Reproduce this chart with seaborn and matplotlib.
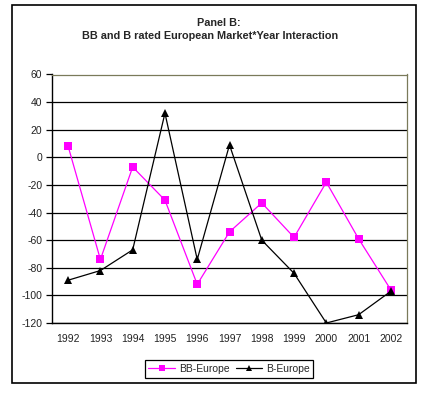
import pandas as pd
import matplotlib
matplotlib.use("Agg")
import matplotlib.pyplot as plt
import seaborn as sns
from matplotlib.patches import Rectangle
from matplotlib.lines import Line2D

years = ["1992", "1993", "1994", "1995", "1996", "1997", "1998", "1999", "2000", "2001", "2002"]
bb_europe = [8, -74, -7, -31, -92, -54, -33, -58, -18, -59, -96]
b_europe = [-89, -82, -67, 32, -74, 9, -60, -84, -120, -114, -97]

sns.set_theme(style="white")
plt.rcParams['font.family'] = ['Liberation Sans', 'DejaVu Sans']
plt.rcParams['axes.unicode_minus'] = False

# long table for seaborn
df = pd.DataFrame({
    'pos': list(range(len(years))) * 2,
    'value': bb_europe + b_europe,
    'series': ['BB-Europe'] * len(years) + ['B-Europe'] * len(years),
})

W, H = 433, 398
fig = plt.figure(figsize=(W / 100, H / 100), dpi=100)
fig.patches.append(Rectangle((12 / W, 1 - 383 / H), 404 / W, 378 / H, transform=fig.transFigure,
                             fill=False, edgecolor='black', linewidth=1.2))

ax = fig.add_axes([52 / W, 1 - 323 / H, 355 / W, (323 - 74.5) / H])
sns.lineplot(data=df, x='pos', y='value', hue='series', style='series',
             palette={'BB-Europe': '#ff00ff', 'B-Europe': 'black'},
             markers={'BB-Europe': 's', 'B-Europe': '^'}, dashes=False,
             markersize=6, markeredgewidth=0, linewidth=0.9, ax=ax, legend=False)

ax.set_xlim(-0.5, len(years) - 0.5)
ax.set_ylim(-120, 60)
ax.set_yticks(range(-120, 61, 20))
ax.set_xticks(range(len(years)))
ax.set_xticklabels(years)
ax.set_xticks([i - 0.5 for i in range(len(years) + 1)], minor=True)
ax.tick_params(axis='x', which='major', length=0, pad=8, labelsize=7.5, colors='#222222')
ax.tick_params(axis='x', which='minor', length=4, width=0.9, color='black', direction='out')
ax.tick_params(axis='y', length=4, width=0.9, color='black', direction='out', labelsize=7.5, pad=3,
               labelcolor='#222222')
ax.tick_params(left=True, bottom=True)
ax.set_xlabel('')
ax.set_ylabel('')
ax.yaxis.grid(True, color='black', linewidth=0.9)
ax.set_axisbelow(True)
for s in ['left', 'bottom']:
    ax.spines[s].set_color('black')
    ax.spines[s].set_linewidth(1.0)
for s in ['top', 'right']:
    ax.spines[s].set_color('#7a7a5a')
    ax.spines[s].set_linewidth(0.9)

fig.text(219 / W, 1 - 23 / H, 'Panel B:', ha='center', va='center', fontsize=7.8, fontweight='bold')
fig.text(210 / W, 1 - 36 / H, 'BB and B rated European Market*Year Interaction', ha='center',
         va='center', fontsize=7.8, fontweight='bold')

handles = [Line2D([], [], color='#ff00ff', marker='s', markersize=5, markeredgewidth=0, linewidth=0.9),
           Line2D([], [], color='black', marker='^', markersize=5, markeredgewidth=0, linewidth=0.9)]
leg = fig.legend(handles, ['BB-Europe', 'B-Europe'], loc='center', bbox_to_anchor=(229 / W, 1 - 369 / H),
                 ncol=2, fontsize=7.5, frameon=True, fancybox=False, edgecolor='black', framealpha=1,
                 handlelength=2.5, handletextpad=0.4, columnspacing=0.6, borderpad=0.35)
leg.get_frame().set_linewidth(0.9)

fig.savefig('out.png', dpi=100)
